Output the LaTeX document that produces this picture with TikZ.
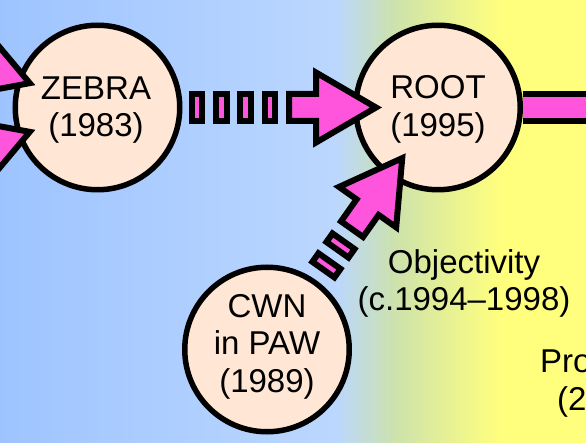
\documentclass[tikz,border=0pt]{standalone}
\usepackage{fontspec}
\setmainfont{Liberation Sans}
\usetikzlibrary{calc}
\pgfdeclarelayer{back}
\pgfsetlayers{back,main}
\definecolor{bgblue}{RGB}{158,196,255}
\definecolor{bglight}{RGB}{187,215,255}
\definecolor{bggreen}{RGB}{205,226,172}
\definecolor{bgyellow}{RGB}{255,255,125}
\definecolor{arrowmag}{RGB}{255,85,221}
\definecolor{nodepeach}{RGB}{255,230,213}
\tikzset{
  nodecircle/.style={circle, draw=black, fill=nodepeach, line width=5.5pt, minimum size=164.5pt, inner sep=0pt},
  arr/.style={fill=arrowmag, draw=black, line width=6pt, line join=miter, miter limit=10},
  lbl/.style={font=\fontsize{33}{37.5}\selectfont, align=center, inner sep=0pt, text=black},
}
\newcommand\headpart[3]{%
  \pgfmathsetmacro\hpA{#3}%
  \pgfmathsetmacro\hpB{#3+60}%
  \pgfmathsetmacro\hpC{#3+87}%
  \filldraw[arr] ($(#2)!\hpA pt!(#1)$)
    -- ($(#2)!\hpB pt!(#1)!35pt!90:(#1)$)
    -- ($(#2)!\hpB pt!(#1)!13.5pt!90:(#1)$)
    -- ($(#2)!\hpC pt!(#1)!13.5pt!90:(#1)$)
    -- ($(#2)!\hpC pt!(#1)!13.5pt!-90:(#1)$)
    -- ($(#2)!\hpB pt!(#1)!13.5pt!-90:(#1)$)
    -- ($(#2)!\hpB pt!(#1)!35pt!-90:(#1)$)
    -- cycle;}
\newcommand\dashpart[3]{%
  \pgfmathsetmacro\dpA{#3-5.25}%
  \pgfmathsetmacro\dpB{#3+5.25}%
  \filldraw[arr] ($(#2)!\dpA pt!(#1)!13.5pt!90:(#1)$)
    -- ($(#2)!\dpB pt!(#1)!13.5pt!90:(#1)$)
    -- ($(#2)!\dpB pt!(#1)!13.5pt!-90:(#1)$)
    -- ($(#2)!\dpA pt!(#1)!13.5pt!-90:(#1)$) -- cycle;}
\begin{document}
\begin{tikzpicture}[x=1pt,y=-1pt]
\useasboundingbox (0,0) rectangle (586,443);
\clip (0,0) rectangle (586,443);
% nodes
\node[nodecircle] (zebra) at (97.5,107.5) {};
\node[nodecircle] (root) at (438,107.5) {};
\node[nodecircle] (cwn) at (267,349.5) {};
\coordinate (srcA) at (-222.5,-7.5);
\coordinate (srcB) at (-222.5,222.5);
\coordinate (next) at (900,107.5);
% background and outgoing shaft
\begin{pgfonlayer}{back}
\clip (0,0) rectangle (586,443);
\shade[left color=bgblue, right color=bglight] (0,0) rectangle (336,443);
\shade[left color=bglight, right color=bggreen] (335,0) rectangle (395,443);
\shade[left color=bggreen, right color=bgyellow] (394,0) rectangle (500,443);
\fill[bgyellow] (499,0) rectangle (586,443);
\draw[line width=33pt, black] (root) -- (next);
\draw[line width=21pt, arrowmag] (root) -- (next);
\end{pgfonlayer}
% incoming arrows
\headpart{zebra}{root}{62}
\foreach \c in {168,192.3,216.6,240.9} {\dashpart{zebra}{root}{\c}}
\headpart{cwn}{root}{62}
\foreach \c in {169,193.3} {\dashpart{cwn}{root}{\c}}
\headpart{srcA}{zebra}{72}
\headpart{srcB}{zebra}{72}
% labels
\node[lbl, anchor=north] (zebraT) at ($(zebra)+(-1.5,-31)$) {ZEBRA\\(1983)};
\node[lbl, anchor=north] (rootT) at ($(root)+(0,-32)$) {ROOT\\(1995)};
\node[lbl, anchor=north] (cwnT) at ($(cwn)+(0,-55.5)$) {CWN\\in PAW\\(1989)};
\node[lbl, anchor=north] (objT) at (464,249) {Objectivity\\(c.1994--1998)};
\node[lbl, anchor=base west] (proT) at (540,373) {Pro};
\node[lbl, anchor=base west] (twoT) at (557,410) {(2};
\end{tikzpicture}
\end{document}
